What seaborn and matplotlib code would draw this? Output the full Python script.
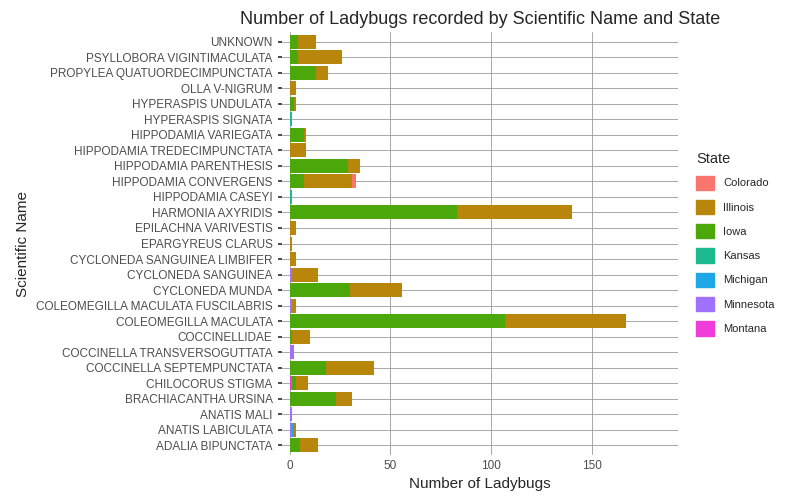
import pandas as pd
import numpy as np
import matplotlib.pyplot as plt
import seaborn as sns
from matplotlib.patches import Patch

species = ["ADALIA BIPUNCTATA", "ANATIS LABICULATA", "ANATIS MALI", "BRACHIACANTHA URSINA",
           "CHILOCORUS STIGMA", "COCCINELLA SEPTEMPUNCTATA", "COCCINELLA TRANSVERSOGUTTATA",
           "COCCINELLIDAE", "COLEOMEGILLA MACULATA", "COLEOMEGILLA MACULATA FUSCILABRIS",
           "CYCLONEDA MUNDA", "CYCLONEDA SANGUINEA", "CYCLONEDA SANGUINEA LIMBIFER",
           "EPARGYREUS CLARUS", "EPILACHNA VARIVESTIS", "HARMONIA AXYRIDIS", "HIPPODAMIA CASEYI",
           "HIPPODAMIA CONVERGENS", "HIPPODAMIA PARENTHESIS", "HIPPODAMIA TREDECIMPUNCTATA",
           "HIPPODAMIA VARIEGATA", "HYPERASPIS SIGNATA", "HYPERASPIS UNDULATA", "OLLA V-NIGRUM",
           "PROPYLEA QUATUORDECIMPUNCTATA", "PSYLLOBORA VIGINTIMACULATA", "UNKNOWN"]

states = ["Colorado", "Illinois", "Iowa", "Kansas", "Michigan", "Minnesota", "Montana"]
colors = ["#F8766D", "#B8860B", "#4CA80A", "#1DB98F", "#1EA7E6", "#A070FF", "#F03CD8"]

colorado  = [0, 0, 0, 0, 0, 0, 0, 0, 0, 0, 0, 0, 0, 0, 0, 0, 0, 2, 0, 0, 0, 0, 0, 0, 0, 0, 0]
illinois  = [9, 1, 0, 8, 6, 24, 0, 9, 60, 2, 26, 13, 3, 1, 3, 57, 0, 24, 6, 8, 1, 0, 1, 3, 6, 22, 9]
iowa      = [5, 0, 0, 23, 2, 18, 0, 1, 107, 0, 30, 0, 0, 0, 0, 83, 0, 7, 29, 0, 7, 0, 2, 0, 13, 4, 4]
kansas    = [0, 0, 0, 0, 0, 0, 0, 0, 0, 0, 0, 0, 0, 0, 0, 0, 1, 0, 0, 0, 0, 1, 0, 0, 0, 0, 0]
michigan  = [0, 1, 0, 0, 0, 0, 0, 0, 0, 0, 0, 0, 0, 0, 0, 0, 0, 0, 0, 0, 0, 0, 0, 0, 0, 0, 0]
minnesota = [0, 1, 1, 0, 0, 0, 2, 0, 0, 1, 0, 1, 0, 0, 0, 0, 0, 0, 0, 0, 0, 0, 0, 0, 0, 0, 0]
montana   = [0, 0, 0, 0, 1, 0, 0, 0, 0, 0, 0, 0, 0, 0, 0, 0, 0, 0, 0, 0, 0, 0, 0, 0, 0, 0, 0]

df = pd.DataFrame({"Colorado": colorado, "Illinois": illinois, "Iowa": iowa, "Kansas": kansas,
                   "Michigan": michigan, "Minnesota": minnesota, "Montana": montana},
                  index=species)

sns.set_theme(style="whitegrid")
plt.rcParams["font.family"] = ["Liberation Sans", "DejaVu Sans"]

fig, ax = plt.subplots(figsize=(8, 4.97), dpi=100)
y = np.arange(len(species))
left = np.zeros(len(species))
# ggplot stacks in reverse factor order from the axis
for st in reversed(states):
    vals = df[st].values
    ax.barh(y, vals, left=left, color=colors[states.index(st)], height=0.9, linewidth=0)
    left += vals

ax.set_yticks(y)
ax.set_yticklabels(species, fontsize=8.5, color="#4d4d4d")
ax.set_ylim(-0.6, len(species) - 0.4)
ax.set_xlim(-4, 193)
ax.set_xticks([0, 50, 100, 150])
ax.tick_params(axis="x", labelsize=8.5, colors="#4d4d4d", length=0)
ax.tick_params(axis="y", length=3, color="#333333", left=True)
ax.set_axisbelow(True)
ax.grid(True, color="#9a9a9a", linewidth=0.6)
for s in ax.spines.values():
    s.set_visible(False)
ax.set_facecolor("white")
ax.set_xlabel("Number of Ladybugs", fontsize=11)
ax.set_ylabel("Scientific Name", fontsize=11)
ax.set_title("Number of Ladybugs recorded by Scientific Name and State", fontsize=13)

handles = [Patch(color=c, label=s) for s, c in zip(states, colors)]
ax.legend(handles=handles, title="State", loc="center left", bbox_to_anchor=(1.02, 0.5),
          frameon=False, fontsize=8, title_fontsize=10.5, handlelength=1.6, handleheight=1.6,
          labelspacing=0.9, alignment="left")

fig.subplots_adjust(left=0.352, right=0.848, top=0.935, bottom=0.085)
fig.savefig("out.png", dpi=100)
